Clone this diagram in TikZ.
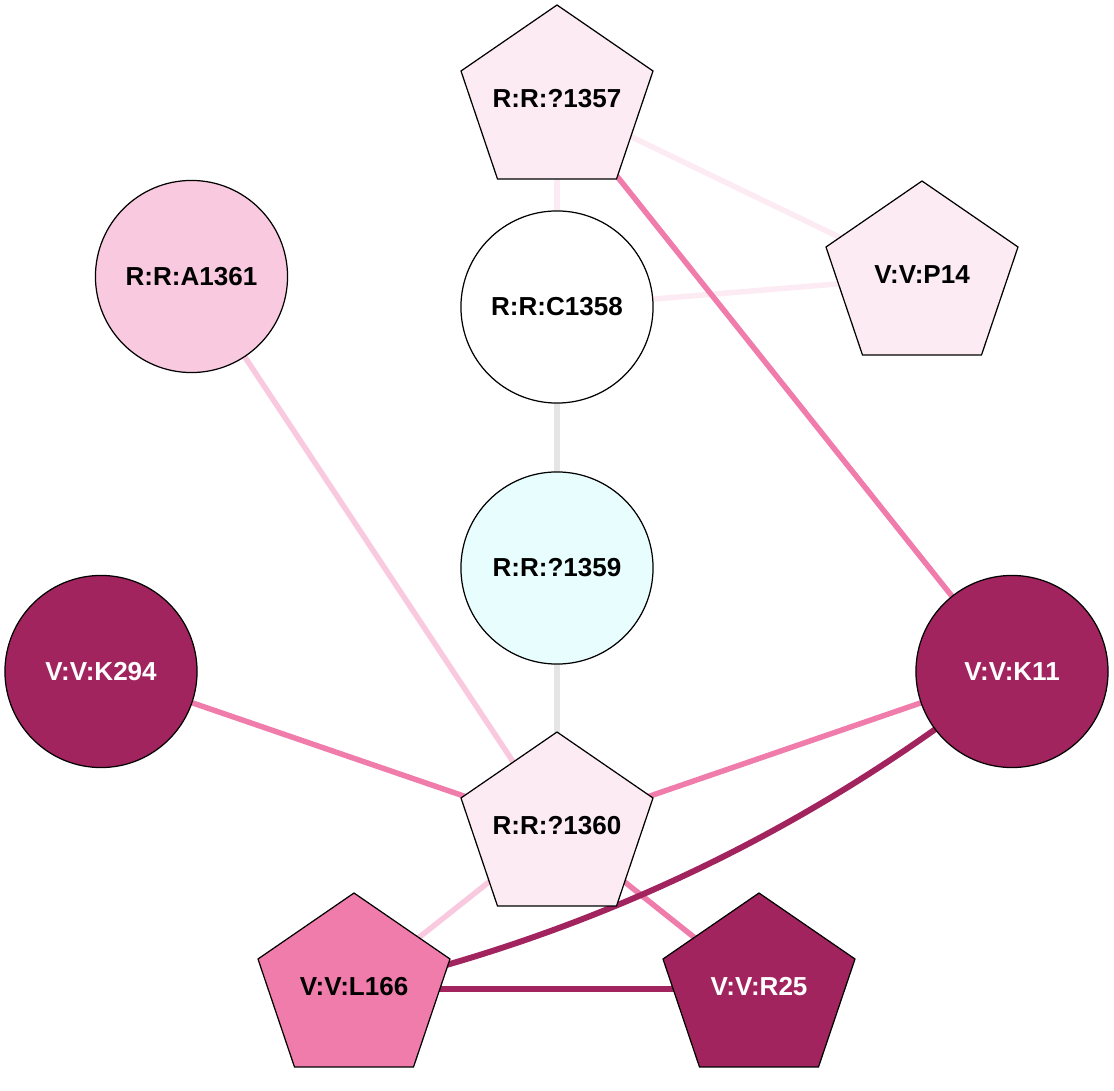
\documentclass[tikz,border=0pt]{standalone}
\usepackage{fontspec}
\setmainfont{Liberation Sans}
\usetikzlibrary{calc,backgrounds}
\definecolor{darkmag}{RGB}{161,36,94}
\definecolor{midpink}{RGB}{240,124,171}
\definecolor{lightpink}{RGB}{249,201,223}
\definecolor{palepink}{RGB}{252,235,243}
\definecolor{palecyan}{RGB}{232,253,253}
\definecolor{edgegrey}{RGB}{229,229,229}
\tikzset{
  lbl/.style={font=\fontsize{7.4pt}{9pt}\selectfont\bfseries, inner sep=0pt},
  circnode/.style={circle, draw=black, line width=0.35pt, minimum size=1.92cm, inner sep=0pt, font=\fontsize{7.4pt}{9pt}\selectfont\bfseries},
  pentshape/.style={draw=black, line width=0.35pt},
  edge/.style={line width=1.56pt},
}
\newcommand\pentnode[5]{%
  \coordinate (#1) at #2;
  \filldraw[pentshape, fill=#3] ($(#1)+(0,-96)$) -- ($(#1)+(96,-30)$) -- ($(#1)+(59.5,78)$) -- ($(#1)+(-59.5,78)$) -- ($(#1)+(-96,-30)$) -- cycle;
  \node[lbl, text=#4] (#1-label) at ($(#1)+(0,-2.5)$) {#5};
}
\begin{document}
\begin{tikzpicture}[x=0.01cm,y=-0.01cm]
\useasboundingbox (0,0) rectangle (1114,1091);
% nodes
\pentnode{r1357}{(557,101)}{palepink}{black}{R:R:?1357}
\pentnode{p14}{(922,277)}{palepink}{black}{V:V:P14}
\pentnode{r1360}{(557,828)}{palepink}{black}{R:R:?1360}
\pentnode{l166}{(354,989)}{midpink}{black}{V:V:L166}
\pentnode{r25}{(759,989)}{darkmag}{white}{V:V:R25}
\node[circnode, fill=white] (c1358) at (557,307) {R:R:C1358};
\node[circnode, fill=palecyan] (r1359) at (557,568) {R:R:?1359};
\node[circnode, fill=lightpink] (a1361) at (191.5,276.5) {R:R:A1361};
\node[circnode, fill=darkmag, text=white] (k294) at (101,671.5) {V:V:K294};
\node[circnode, fill=darkmag, text=white] (k11) at (1012,671.5) {V:V:K11};
% edges
\begin{pgfonlayer}{background}
\draw[edge, palepink] (r1357) -- (c1358.center);
\draw[edge, palepink] (r1357) -- (p14);
\draw[edge, palepink] (c1358.center) -- (p14);
\draw[edge, midpink] (r1357) -- (k11.center);
\draw[edge, edgegrey, line width=1.7pt] (c1358.center) -- (r1359.center);
\draw[edge, edgegrey, line width=1.7pt] (r1359.center) -- (r1360);
\draw[edge, lightpink] (a1361.center) -- (r1360);
\draw[edge, midpink] (k294.center) -- (r1360);
\draw[edge, midpink] (k11.center) -- (r1360);
\draw[edge, lightpink] (r1360) -- (l166);
\draw[edge, midpink] (r1360) -- (r25);
\draw[edge, darkmag, line width=1.7pt] (l166) .. controls (597.3,933) and (816.7,827.2) .. (k11.center);
\draw[edge, darkmag, line width=1.8pt] (l166) -- (r25);
\end{pgfonlayer}
\end{tikzpicture}
\end{document}
